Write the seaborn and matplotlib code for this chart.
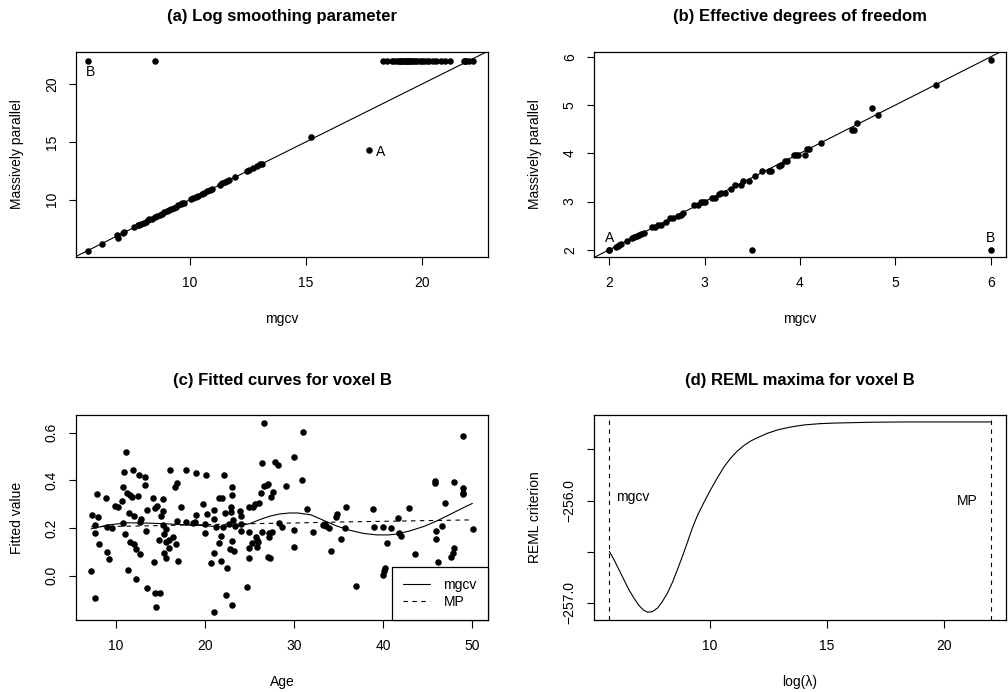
import numpy as np
import pandas as pd
import matplotlib
matplotlib.use("Agg")
import matplotlib.pyplot as plt
import seaborn as sns

# ---------------- data ----------------
# (a) log smoothing parameter: mgcv vs massively parallel
a_mgcv = [5.6, 6.2, 6.85, 6.9, 7.1, 7.15, 7.6, 7.75, 7.8, 7.9, 8.0, 8.1, 8.2, 8.25, 8.35,
          8.5, 8.6, 8.7, 8.8, 8.9, 9.0, 9.1, 9.2, 9.3, 9.4, 9.5, 9.6, 9.65, 9.75, 10.05,
          10.15, 10.25, 10.35, 10.5, 10.6, 10.75, 10.85, 10.95, 11.3, 11.4, 11.5, 11.6,
          11.7, 11.95, 12.45, 12.55, 12.7, 12.9, 13.0, 13.1, 15.2, 17.7,
          5.6, 8.5, 18.3, 18.5, 18.7, 18.8, 18.9, 19.0, 19.05, 19.1, 19.15, 19.2, 19.25,
          19.3, 19.35, 19.4, 19.45, 19.5, 19.55, 19.6, 19.7, 19.8, 19.9, 20.0, 20.1, 20.2,
          20.3, 20.45, 20.6, 20.8, 21.0, 21.2, 21.8, 21.85, 21.9, 22.0, 22.2]
a_mp = [5.6, 6.2, 6.95, 6.7, 7.15, 7.2, 7.6, 7.8, 7.8, 7.9, 8.0, 8.1, 8.2, 8.3, 8.35,
        8.5, 8.6, 8.7, 8.8, 8.9, 9.0, 9.1, 9.2, 9.3, 9.4, 9.5, 9.6, 9.7, 9.75, 10.05,
        10.15, 10.25, 10.35, 10.5, 10.6, 10.75, 10.85, 10.95, 11.3, 11.4, 11.5, 11.6,
        11.7, 11.95, 12.45, 12.55, 12.75, 12.9, 13.05, 13.1, 15.4, 14.3,
        22.0, 22.0, 22.0, 22.0, 22.0, 22.0, 22.0, 22.0, 22.0, 22.0, 22.0, 22.0, 22.0,
        22.0, 22.0, 22.0, 22.0, 22.0, 22.0, 22.0, 22.0, 22.0, 22.0, 22.0, 22.0, 22.0,
        22.0, 22.0, 22.0, 22.0, 22.0, 22.0, 22.0, 22.0, 22.0, 22.0, 22.0]

# (b) effective degrees of freedom
b_mgcv = [2.0, 2.0, 2.07, 2.09, 2.1, 2.12, 2.19, 2.24, 2.26, 2.29, 2.31, 2.33, 2.36,
          2.45, 2.48, 2.51, 2.54, 2.59, 2.64, 2.67, 2.72, 2.75, 2.77, 2.89, 2.93, 2.96,
          2.98, 3.0, 3.08, 3.11, 3.15, 3.17, 3.21, 3.28, 3.32, 3.38, 3.4, 3.46, 3.53,
          3.6, 3.67, 3.7, 3.78, 3.8, 3.84, 3.86, 3.94, 3.96, 3.98, 4.05, 4.07, 4.09,
          4.22, 4.54, 4.57, 4.6, 4.75, 4.82, 5.43, 6.0, 3.5, 6.0]
b_mp = [2.0, 2.0, 2.06, 2.08, 2.09, 2.11, 2.19, 2.25, 2.26, 2.28, 2.3, 2.33, 2.35,
        2.47, 2.48, 2.52, 2.52, 2.58, 2.65, 2.65, 2.71, 2.72, 2.77, 2.92, 2.93, 3.0,
        3.0, 3.0, 3.07, 3.08, 3.16, 3.17, 3.17, 3.25, 3.34, 3.34, 3.43, 3.43, 3.53,
        3.63, 3.63, 3.63, 3.73, 3.75, 3.85, 3.85, 3.97, 3.97, 3.97, 3.97, 4.09, 4.09,
        4.22, 4.49, 4.49, 4.63, 4.93, 4.79, 5.41, 5.94, 2.0, 2.0]

# (c) fitted curves for voxel B
c_age = [7.16, 7.31, 7.6, 7.68, 7.68, 7.9, 7.94, 8.09, 8.88, 8.95, 9.21, 9.03, 9.59,
         9.93, 10.22, 10.67, 10.75, 10.82, 10.9, 11.12, 11.05, 11.38, 11.42, 11.27,
         11.57, 11.57, 11.8, 11.91, 12.02, 12.02, 12.21, 12.25, 12.47, 12.54, 12.69,
         12.69, 12.77, 13.22, 13.29, 13.37, 13.48, 13.52, 14.19, 14.23, 14.42, 14.57,
         14.53, 14.42, 14.79, 14.94, 15.01, 15.24, 15.28, 15.31, 15.35, 15.39, 15.61,
         15.58, 15.61, 15.91, 15.99, 16.06, 16.36, 16.59, 16.81, 16.74, 16.96, 16.88,
         17.33, 17.86, 17.9, 18.68, 18.91, 19.02, 19.02, 19.77, 19.95, 20.03, 20.14,
         20.18, 20.66, 20.96, 20.96, 21.0, 21.04, 21.23, 21.52, 21.52, 21.75, 21.79,
         21.94, 22.05, 22.12, 22.2, 22.39, 22.5, 22.72, 22.8, 22.91, 22.91, 22.98,
         22.98, 23.02, 23.06, 23.17, 23.28, 23.32, 23.96, 23.99, 23.99, 24.07, 24.74,
         24.97, 24.97, 24.97, 24.97, 25.3, 25.42, 25.64, 25.72, 25.79, 25.83, 25.98,
         26.09, 26.28, 26.35, 26.39, 26.61, 26.65, 26.91, 27.03, 27.1, 27.21, 27.21,
         27.29, 27.36, 27.47, 27.59, 27.89, 28.19, 28.26, 28.6, 29.05, 29.98, 29.98,
         29.98, 30.84, 30.99, 31.48, 32.15, 33.2, 33.46, 33.57, 33.91, 34.13, 34.66,
         34.85, 35.3, 35.74, 35.82, 36.98, 38.81, 38.96, 39.93, 40.01, 40.08, 40.2,
         40.42, 40.83, 41.62, 41.77, 41.95, 42.93, 43.53, 45.77, 45.77, 45.92, 45.96,
         46.18, 46.56, 46.97, 47.57, 47.83, 47.91, 47.94, 48.92, 48.99, 48.99, 48.92,
         50.04]
c_value = [0.018, 0.253, -0.094, 0.214, 0.179, 0.344, 0.248, 0.131, 0.327, 0.099, 0.071,
           0.204, 0.199, 0.294, 0.29, 0.312, 0.373, 0.222, 0.434, 0.519, 0.173, 0.022,
           0.263, 0.348, 0.338, 0.143, 0.331, 0.442, 0.25, 0.134, -0.015, 0.11, 0.336,
           0.422, 0.224, 0.091, 0.236, 0.379, 0.415, 0.189, -0.05, 0.274, 0.324, 0.056,
           0.284, 0.294, -0.131, -0.071, 0.15, -0.071, 0.252, 0.322, 0.27, 0.214, 0.175,
           0.097, 0.073, 0.197, 0.143, 0.15, 0.115, 0.442, 0.161, 0.373, 0.39, 0.133,
           0.06, 0.231, 0.29, 0.224, 0.443, 0.22, 0.227, 0.429, 0.255, 0.302, 0.179,
           0.215, 0.422, 0.26, 0.055, 0.097, -0.152, 0.277, 0.236, 0.206, 0.138, 0.324,
           0.06, 0.166, 0.324, 0.206, 0.421, 0.262, -0.08, 0.031, 0.218, 0.113, 0.288,
           0.266, -0.123, 0.144, 0.371, 0.34, 0.232, 0.102, 0.21, 0.27, 0.252, 0.189,
           0.217, -0.049, 0.287, 0.182, 0.115, 0.076, 0.136, 0.29, 0.301, 0.164, 0.119,
           0.15, 0.143, 0.303, 0.348, 0.471, 0.183, 0.639, 0.376, 0.38, 0.077, 0.385,
           0.164, 0.179, 0.076, 0.331, 0.182, 0.352, 0.477, 0.463, 0.22, 0.203, 0.378,
           0.497, 0.192, 0.119, 0.401, 0.603, 0.281, 0.182, 0.211, 0.218, 0.207, 0.199,
           0.103, 0.248, 0.257, 0.152, 0.199, 0.288, -0.045, 0.28, 0.206, 0.203, 0.001,
           0.02, 0.031, 0.137, 0.201, 0.242, 0.179, 0.166, 0.283, 0.091, 0.399, 0.387,
           0.186, 0.152, 0.056, 0.208, 0.306, 0.077, 0.095, 0.115, 0.393, 0.587, 0.366,
           0.348, 0.344, 0.196]

c_fit_age = [7.2, 9.0, 11.2, 14.0, 17.0, 19.8, 21.7, 23.9, 25.0, 26.2, 27.3, 28.4, 29.5,
             30.4, 31.9, 33.3, 34.8, 36.3, 37.8, 39.3, 40.6, 41.6, 43.1, 44.6, 46.1, 47.6,
             49.1, 50.0]
c_fit_mgcv = [0.196, 0.212, 0.222, 0.220, 0.215, 0.210, 0.205, 0.210, 0.218, 0.236,
              0.250, 0.259, 0.263, 0.263, 0.255, 0.232, 0.208, 0.190, 0.177, 0.171,
              0.171, 0.175, 0.189, 0.207, 0.231, 0.259, 0.287, 0.303]
c_mp_age = [7.2, 15.0, 20.0, 25.0, 30.0, 35.0, 40.0, 45.0, 50.0]
c_fit_mp = [0.205, 0.210, 0.214, 0.218, 0.221, 0.225, 0.228, 0.231, 0.234]

# (d) REML criterion profile
d_loglam = [5.695, 5.895, 6.108, 6.322, 6.536, 6.749, 6.963, 7.177, 7.348, 7.533, 7.747,
            7.960, 8.174, 8.388, 8.601, 8.815, 9.029, 9.242, 9.456, 9.741, 10.026, 10.311,
            10.596, 10.880, 11.165, 11.450, 11.735, 12.020, 12.447, 12.875, 13.445,
            14.014, 14.727, 15.439, 16.863, 18.288, 19.712, 21.992]
d_reml = [-256.497, -256.578, -256.676, -256.775, -256.873, -256.954, -257.026, -257.075,
          -257.091, -257.085, -257.052, -256.987, -256.905, -256.801, -256.676, -256.546,
          -256.409, -256.268, -256.147, -256.016, -255.892, -255.778, -255.670, -255.585,
          -255.516, -255.461, -255.418, -255.386, -255.343, -255.310, -255.281, -255.261,
          -255.248, -255.242, -255.235, -255.232, -255.232, -255.232]
d_vlines = [5.695, 21.992]

# ---------------- style ----------------
sns.set_style("ticks")
plt.rcParams["font.family"] = ["Liberation Sans", "DejaVu Sans"]
plt.rcParams["axes.unicode_minus"] = True
for k in ["text.color", "axes.labelcolor", "xtick.color", "ytick.color",
          "axes.edgecolor"]:
    plt.rcParams[k] = "black"

W, H = 1008, 692
fig = plt.figure(figsize=(W / 100, H / 100), dpi=100)

AX_W, AX_H = 412, 205


def make_ax(left, top):
    return fig.add_axes([left / W, 1 - (top + AX_H) / H, AX_W / W, AX_H / H])


def style_ax(ax, title, xlabel, ylabel):
    for s in ax.spines.values():
        s.set_visible(True)
        s.set_linewidth(0.9)
        s.set_color("black")
    ax.tick_params(direction="out", length=5.4, width=0.8, labelsize=10,
                   colors="black", labelcolor="black")
    ax.tick_params(axis="x", pad=8)
    ax.tick_params(axis="y", labelrotation=90, pad=7)
    for lab in ax.get_yticklabels():
        lab.set_va("center")
    ax.set_xlabel("")
    ax.set_ylabel("")
    ax.text(0.5, 1 + 35 / AX_H, title, transform=ax.transAxes, ha="center",
            va="center", fontsize=12, fontweight="bold", color="black")
    ax.text(0.5, -62 / AX_H, xlabel, transform=ax.transAxes, ha="center",
            va="center", fontsize=10, color="black")
    ax.text(-59 / AX_W, 0.5, ylabel, transform=ax.transAxes, ha="center",
            va="center", rotation=90, fontsize=10, color="black")
    ax.grid(False)


dot = dict(color="black", s=22, linewidth=0, legend=False)

# (a)
axa = make_ax(76, 52)
sns.scatterplot(x=a_mgcv, y=a_mp, ax=axa, **dot)
axa.axline((10, 10), slope=1, color="black", lw=0.8)
axa.set_xlim(5.09, 22.84)
axa.set_ylim(5.04, 22.77)
axa.set_xticks([10, 15, 20])
axa.set_yticks([10, 15, 20])
axa.text(5.72, 21.0, "B", ha="center", va="center", fontsize=10)
axa.text(18.0, 14.15, "A", ha="left", va="center", fontsize=10)
style_ax(axa, "(a) Log smoothing parameter", "mgcv", "Massively parallel")

# (b)
axb = make_ax(594, 52)
sns.scatterplot(x=b_mgcv, y=b_mp, ax=axb, **dot)
axb.axline((2, 2), slope=1, color="black", lw=0.8)
axb.set_xlim(1.84, 6.16)
axb.set_ylim(1.85, 6.10)
axb.set_xticks([2, 3, 4, 5, 6])
axb.set_yticks([2, 3, 4, 5, 6])
axb.text(2.0, 2.25, "A", ha="center", va="center", fontsize=10)
axb.text(6.0, 2.24, "B", ha="center", va="center", fontsize=10)
style_ax(axb, "(b) Effective degrees of freedom", "mgcv", "Massively parallel")

# (c)
axc = make_ax(76, 415)
sns.scatterplot(x=c_age, y=c_value, ax=axc, **dot)
sns.lineplot(x=c_fit_age, y=c_fit_mgcv, ax=axc, color="black", lw=0.8,
             label="mgcv", sort=True)
sns.lineplot(x=c_mp_age, y=c_fit_mp, ax=axc, color="black", lw=0.8,
             linestyle=(0, (4, 4)), label="MP", sort=True)
axc.set_xlim(5.51, 51.76)
axc.set_ylim(-0.186, 0.674)
axc.set_xticks([10, 20, 30, 40, 50])
axc.set_yticks([0.0, 0.2, 0.4, 0.6])
axc.set_yticklabels(["0.0", "0.2", "0.4", "0.6"])
leg = axc.legend(loc="lower right", borderaxespad=0, fancybox=False, framealpha=1,
                 edgecolor="black", fontsize=10, handlelength=1.9, borderpad=0.8,
                 handletextpad=1.0, labelspacing=0.2)
leg.get_frame().set_linewidth(0.9)
for t in leg.get_texts():
    t.set_color("black")
style_ax(axc, "(c) Fitted curves for voxel B", "Age", "Fitted value")

# (d)
axd = make_ax(594, 415)
sns.lineplot(x=d_loglam, y=d_reml, ax=axd, color="black", lw=0.8, sort=True)
for v in d_vlines:
    axd.axvline(v, color="black", lw=0.8, linestyle=(0, (4, 4)))
axd.set_xlim(5.04, 22.64)
axd.set_ylim(-257.167, -255.164)
axd.set_xticks([10, 15, 20])
axd.set_yticks([-257.0, -256.5, -256.0, -255.5])
axd.set_yticklabels(["\u2212257.0", "", "\u2212256.0", ""])
axd.text(5.97, -255.97, "mgcv", ha="left", va="center", fontsize=10)
axd.text(20.97, -256.0, "MP", ha="center", va="center", fontsize=10)
style_ax(axd, "(d) REML maxima for voxel B", "log(\u03bb)", "REML criterion")

fig.savefig("out.png", dpi=100, facecolor="white")
